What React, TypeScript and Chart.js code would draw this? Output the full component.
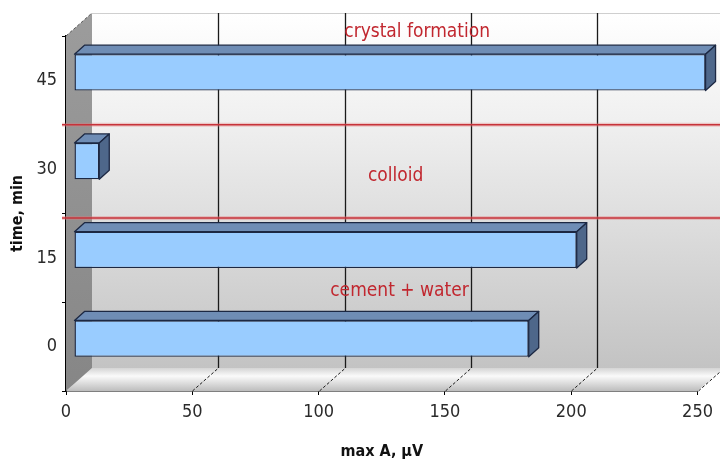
import { useEffect, useRef } from 'react';
import { Chart, registerables } from 'chart.js';

Chart.register(...registerables);

// ---- data ----
const categories = ['45', '30', '15', '0']; // time, min (top to bottom)
const maxAmplitude = [250, 10, 199, 180]; // max A, µV
const xTickValues = [0, 50, 100, 150, 200, 250];
const phaseNames = ['crystal formation', 'colloid', 'cement + water'];
const phaseBoundaryTimes = [37.5, 21.75]; // min

const NARROW = '"Liberation Sans Narrow", "Arial Narrow", "DejaVu Sans Condensed", sans-serif';

// 3D geometry (pixels)
const DX = 26, DY = -23; // total depth of the plot box
const BX = 8, BY = -8; // bar front offset into the box
const BDX = 10, BDY = -9; // bar depth

const timeToIndex = (t: number) => (45 - t) / 15;

const plot3d = {
  id: 'plot3d',
  beforeDatasetsDraw(chart: any) {
    const { ctx, chartArea: a, scales } = chart;
    const x = scales.x;
    const x0 = x.getPixelForValue(0);
    const xEnd = x.getPixelForValue(250);
    ctx.save();
    // back wall
    const bw = ctx.createLinearGradient(0, a.top + DY, 0, a.bottom + DY);
    bw.addColorStop(0, '#ffffff');
    bw.addColorStop(0.3, '#f0f0f0');
    bw.addColorStop(1, '#c3c3c3');
    ctx.fillStyle = bw;
    ctx.fillRect(x0 + DX, a.top + DY, chart.width - (x0 + DX), a.bottom - a.top);
    ctx.strokeStyle = '#cfcfcf';
    ctx.lineWidth = 1;
    ctx.beginPath();
    ctx.moveTo(x0 + DX, a.top + DY + 0.5);
    ctx.lineTo(chart.width, a.top + DY + 0.5);
    ctx.stroke();
    // floor
    const fl = ctx.createLinearGradient(0, a.bottom + DY, 0, a.bottom);
    fl.addColorStop(0, '#d4d4d4');
    fl.addColorStop(0.35, '#fafafa');
    fl.addColorStop(1, '#bdbdbd');
    ctx.fillStyle = fl;
    ctx.beginPath();
    ctx.moveTo(x0, a.bottom);
    ctx.lineTo(x0 + DX, a.bottom + DY);
    ctx.lineTo(xEnd + DX, a.bottom + DY);
    ctx.lineTo(xEnd, a.bottom);
    ctx.closePath();
    ctx.fill();
    // left wall
    const lw = ctx.createLinearGradient(0, a.top + DY, 0, a.bottom);
    lw.addColorStop(0, '#9c9c9c');
    lw.addColorStop(1, '#868686');
    ctx.fillStyle = lw;
    ctx.beginPath();
    ctx.moveTo(x0, a.top);
    ctx.lineTo(x0 + DX, a.top + DY);
    ctx.lineTo(x0 + DX, a.bottom + DY);
    ctx.lineTo(x0, a.bottom);
    ctx.closePath();
    ctx.fill();
    ctx.strokeStyle = '#555';
    ctx.setLineDash([3, 2]);
    ctx.beginPath();
    ctx.moveTo(x0, a.top);
    ctx.lineTo(x0 + DX, a.top + DY);
    ctx.stroke();
    ctx.setLineDash([]);
    // grid lines
    xTickValues.forEach((v) => {
      if (v === 0) return;
      const px = Math.round(x.getPixelForValue(v)) + 0.5;
      ctx.strokeStyle = '#1a1a1a';
      ctx.lineWidth = 1.3;
      ctx.beginPath();
      ctx.moveTo(px + DX, a.top + DY);
      ctx.lineTo(px + DX, a.bottom + DY);
      ctx.stroke();
      ctx.setLineDash([3, 2]);
      ctx.lineWidth = 1;
      ctx.beginPath();
      ctx.moveTo(px, a.bottom);
      ctx.lineTo(px + DX, a.bottom + DY);
      ctx.stroke();
      ctx.setLineDash([]);
    });
    ctx.restore();
    ctx.save();
    ctx.translate(BX, BY);
  },
  afterDatasetsDraw(chart: any) {
    const { ctx } = chart;
    const meta = chart.getDatasetMeta(0);
    meta.data.forEach((bar: any) => {
      const { x, y, base, height } = bar.getProps(['x', 'y', 'base', 'height'], true);
      const top = y - height / 2;
      const bottom = y + height / 2;
      ctx.lineWidth = 1.3;
      ctx.strokeStyle = '#1c2843';
      ctx.lineJoin = 'round';
      // top face
      ctx.fillStyle = '#6f8db5';
      ctx.beginPath();
      ctx.moveTo(base, top);
      ctx.lineTo(base + BDX, top + BDY);
      ctx.lineTo(x + BDX, top + BDY);
      ctx.lineTo(x, top);
      ctx.closePath();
      ctx.fill();
      ctx.stroke();
      // side face
      ctx.fillStyle = '#4e678a';
      ctx.beginPath();
      ctx.moveTo(x, top);
      ctx.lineTo(x + BDX, top + BDY);
      ctx.lineTo(x + BDX, bottom + BDY);
      ctx.lineTo(x, bottom);
      ctx.closePath();
      ctx.fill();
      ctx.stroke();
    });
    ctx.restore();
  },
  afterDraw(chart: any) {
    const { ctx, scales } = chart;
    const x = scales.x;
    const y = scales.y;
    ctx.save();
    // phase boundaries
    phaseBoundaryTimes.forEach((t) => {
      const py = y.getPixelForValue(timeToIndex(t));
      ctx.strokeStyle = 'rgba(230,120,120,0.35)';
      ctx.lineWidth = 4;
      ctx.beginPath();
      ctx.moveTo(62, py);
      ctx.lineTo(chart.width, py);
      ctx.stroke();
      ctx.strokeStyle = '#c7323a';
      ctx.lineWidth = 1.5;
      ctx.beginPath();
      ctx.moveTo(62, py);
      ctx.lineTo(chart.width, py);
      ctx.stroke();
    });
    // phase labels
    const anchors = [
      [139, -0.54],
      [130.5, 1.08],
      [132, 2.37],
    ];
    ctx.font = `19px ${NARROW}`;
    ctx.fillStyle = '#c1272f';
    ctx.textAlign = 'center';
    ctx.textBaseline = 'middle';
    phaseNames.forEach((name, i) => {
      ctx.fillText(name, x.getPixelForValue(anchors[i][0]), y.getPixelForValue(anchors[i][1]));
    });
    ctx.restore();
  },
};

export default function App() {
  const ref = useRef<HTMLCanvasElement>(null);
  useEffect(() => {
    if (!ref.current) return;
    const chart = new Chart(ref.current, {
      type: 'bar',
      data: {
        labels: categories,
        datasets: [
          {
            data: maxAmplitude,
            backgroundColor: '#99ccff',
            borderColor: '#1c2843',
            borderWidth: 1.4,
            borderSkipped: false,
            barPercentage: 0.41,
            categoryPercentage: 1,
            clip: false as any,
          },
        ],
      },
      options: {
        indexAxis: 'y',
        animation: false,
        responsive: true,
        maintainAspectRatio: false,
        layout: { padding: { top: 36, right: 22, left: 0, bottom: 0 } },
        plugins: { legend: { display: false }, tooltip: { enabled: false } },
        scales: {
          x: {
            type: 'linear',
            min: 0,
            max: 250,
            afterBuildTicks: (s: any) => {
              s.ticks = xTickValues.map((v) => ({ value: v }));
            },
            afterFit: (s: any) => {
              s.height = 75;
            },
            grid: { drawOnChartArea: false, drawTicks: true, tickLength: 4, color: '#000' },
            border: { display: true, color: '#000', width: 1.5 },
            ticks: {
              color: '#2a2a2a',
              padding: 7,
              maxRotation: 0,
              font: { family: NARROW, size: 18 },
            },
            title: {
              display: true,
              text: 'max A, µV',
              color: '#111',
              font: { family: NARROW, size: 16, weight: 'bold' },
              padding: { top: 0, bottom: 5 },
            },
          },
          y: {
            afterFit: (s: any) => {
              s.width = 66;
            },
            grid: { drawOnChartArea: false, drawTicks: true, tickLength: 4, color: '#000', offset: true },
            border: { display: true, color: '#000', width: 1.5 },
            ticks: {
              color: '#2a2a2a',
              padding: 5,
              font: { family: NARROW, size: 18 },
            },
            title: {
              display: true,
              text: 'time, min',
              color: '#111',
              font: { family: NARROW, size: 16, weight: 'bold' },
              padding: { top: 8, bottom: 0 },
            },
          },
        },
      },
      plugins: [plot3d],
    });
    return () => chart.destroy();
  }, []);
  return (
    <div style={{ position: 'fixed', left: 0, top: 0, width: 720, height: 466, background: '#fff' }}>
      <canvas ref={ref} />
    </div>
  );
}
